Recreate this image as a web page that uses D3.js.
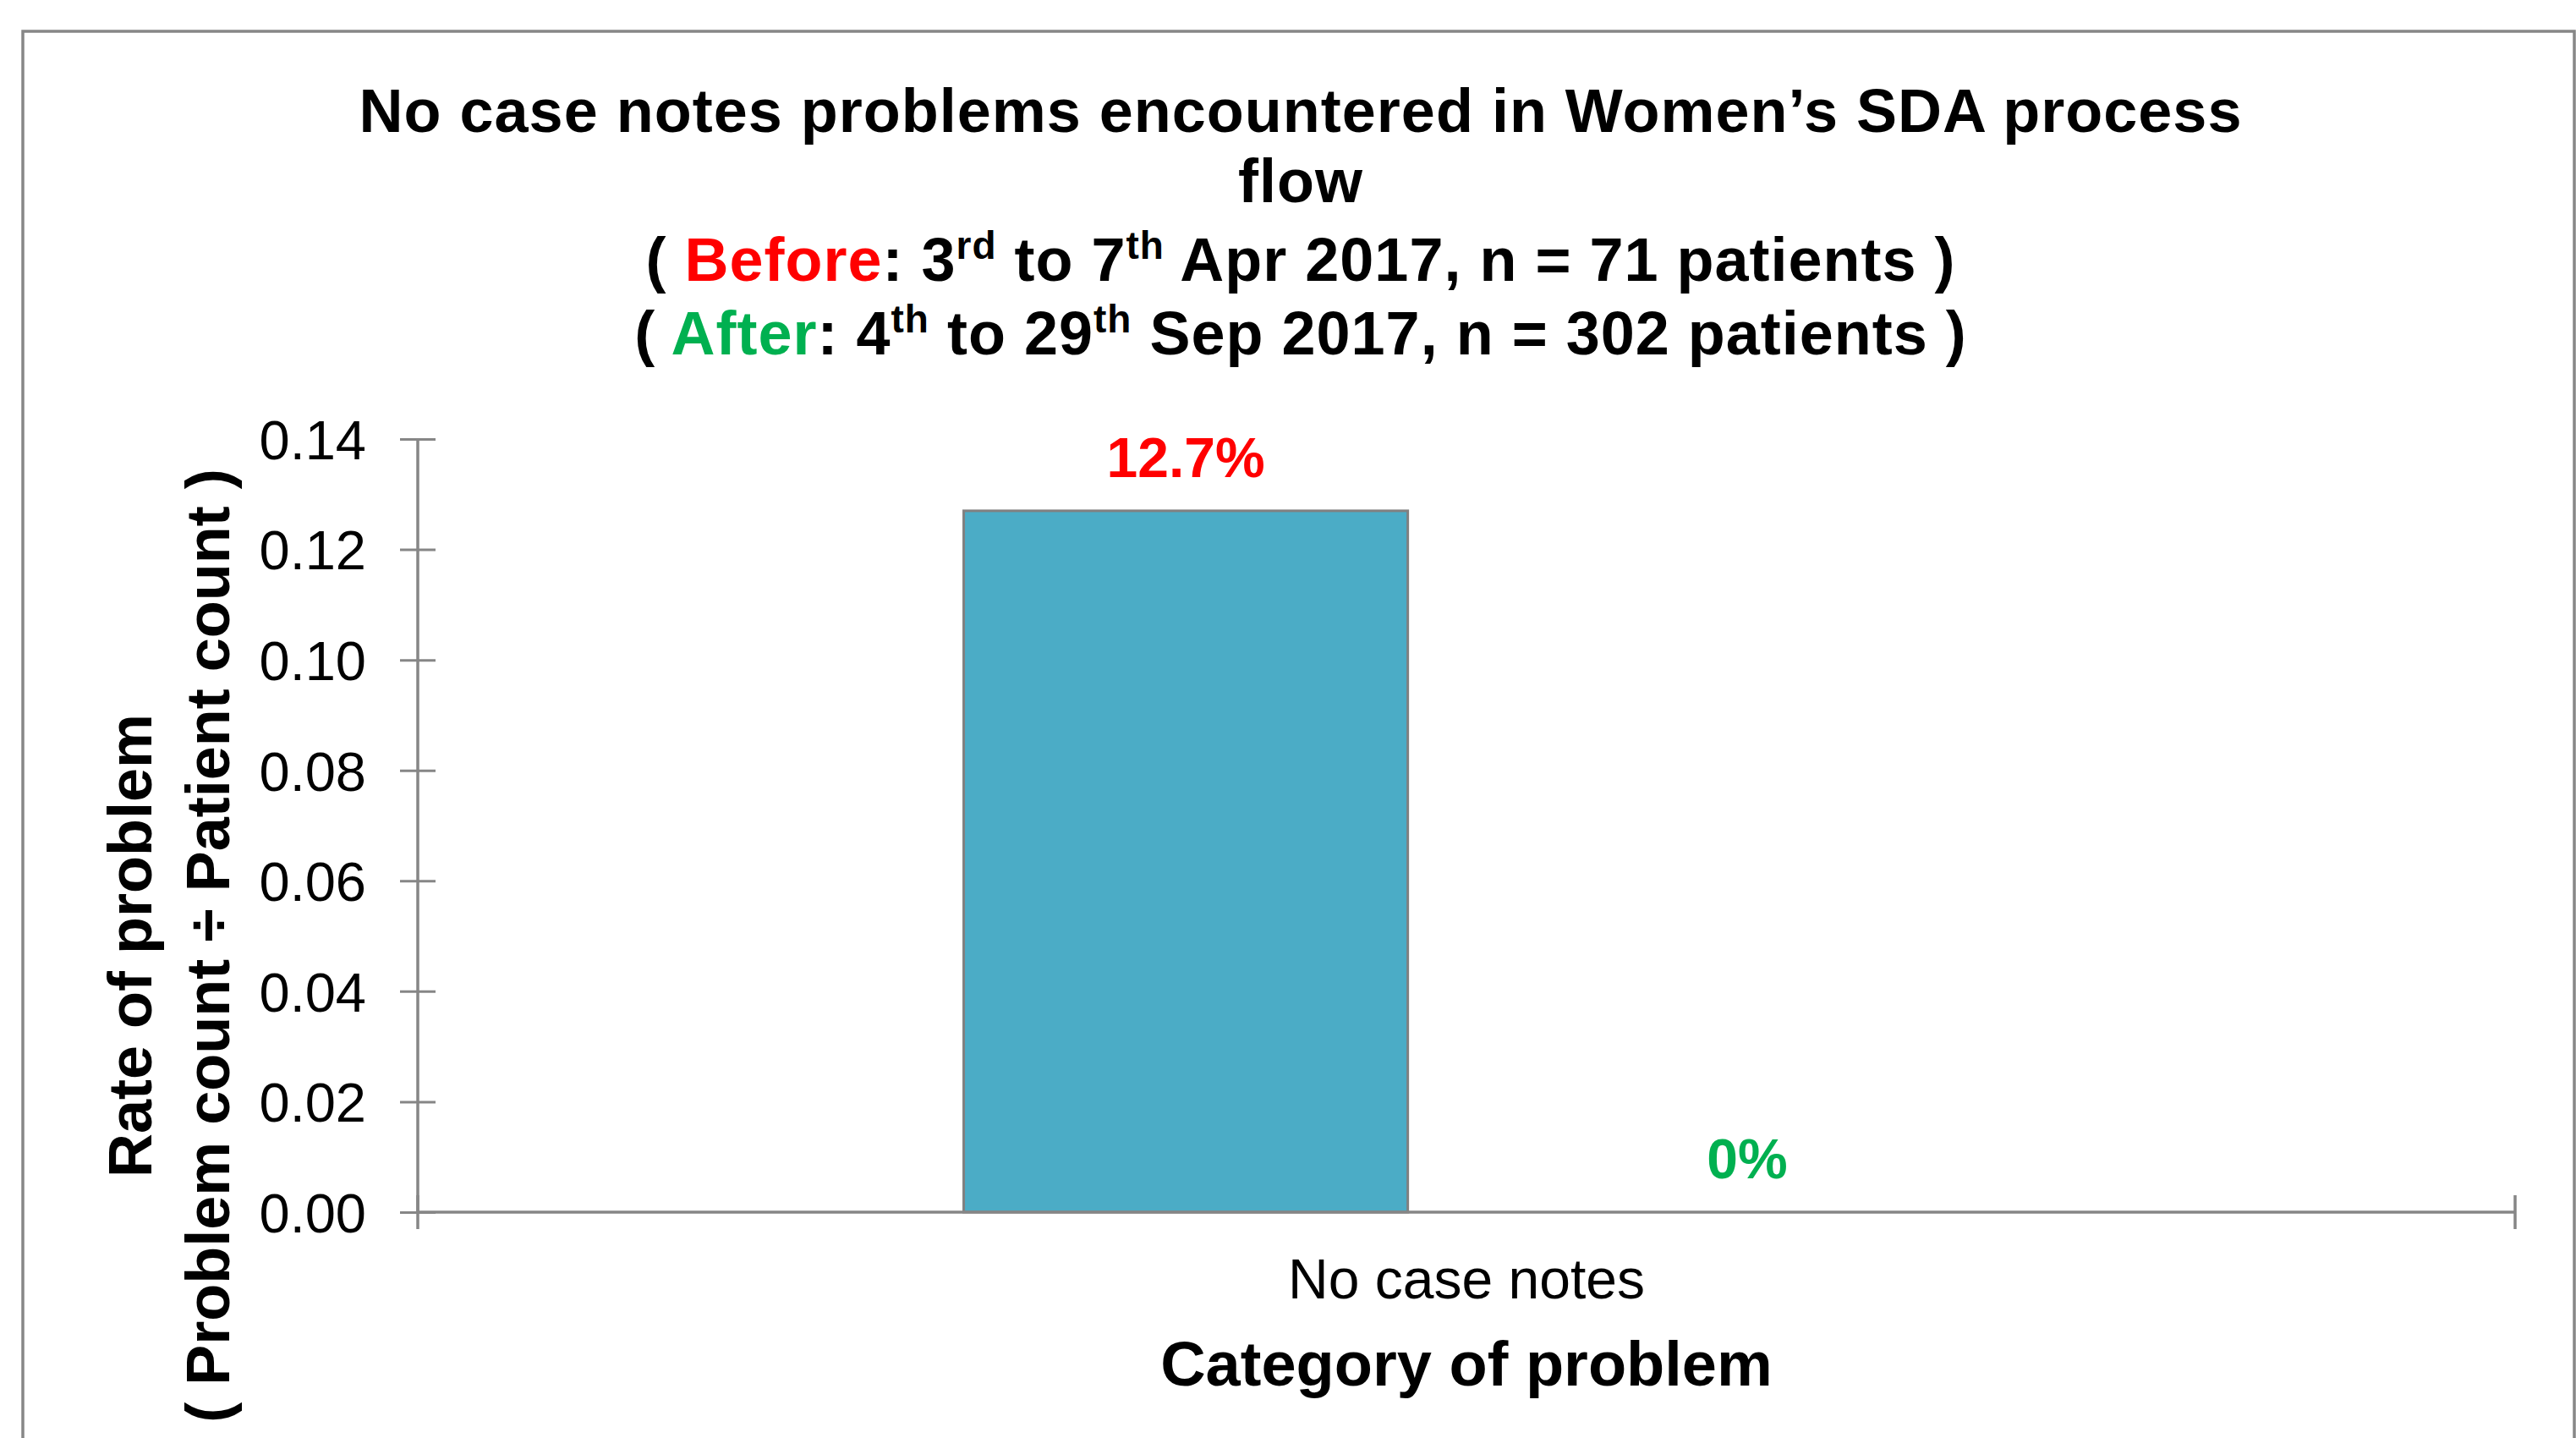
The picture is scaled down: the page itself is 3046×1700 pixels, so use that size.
<!DOCTYPE html>
<html><head><meta charset="utf-8">
<script src="https://cdn.jsdelivr.net/npm/d3@7"></script>
<style>html,body{margin:0;padding:0;background:#fff;}svg{display:block;}text{font-family:"Liberation Sans",Arial,sans-serif;}</style>
</head><body>
<svg id="c" width="3046" height="1700"></svg>
<script>
const categories = ["No case notes"];
const seriesNames = ["Before", "After"];
const beforeValues = [0.127];
const afterValues = [0];
const valueLabels = ["12.7%", "0%"];
const labelColors = ["#FF0000", "#00B050"];
const yTicks = [0, 0.02, 0.04, 0.06, 0.08, 0.10, 0.12, 0.14];

const svg = d3.select("#c");
const W = 3046, H = 1700;
svg.append("rect").attr("width", W).attr("height", H).attr("fill", "#fff");
// chart frame
svg.append("rect").attr("x", 27).attr("y", 37).attr("width", 3017).attr("height", 1720)
  .attr("fill", "none").attr("stroke", "#878787").attr("stroke-width", 3.5);

const plot = {left: 494, right: 2974, top: 519, bottom: 1433};
const y = d3.scaleLinear().domain([0, 0.14]).range([plot.bottom, plot.top]);
const x0 = d3.scaleBand().domain(categories).range([plot.left, plot.right]).paddingInner(0).paddingOuter(0);
const x1 = d3.scaleBand().domain(seriesNames)
  .range([x0.bandwidth() * 0.2603, x0.bandwidth() * (1 - 0.2603)])
  .paddingInner(0.209).paddingOuter(0);

const data = [];
categories.forEach((c, i) => {
  data.push({cat: c, s: "Before", v: beforeValues[i], label: valueLabels[0], color: labelColors[0]});
  data.push({cat: c, s: "After", v: afterValues[i], label: valueLabels[1], color: labelColors[1]});
});

// bars
svg.append("g").selectAll("rect").data(data.filter(d => d.v > 0)).join("rect")
  .attr("x", d => x0(d.cat) + x1(d.s))
  .attr("y", d => y(d.v))
  .attr("width", x1.bandwidth())
  .attr("height", d => y(0) - y(d.v))
  .attr("fill", "#4BACC6").attr("stroke", "#808080").attr("stroke-width", 3);

// y axis
const yAxis = svg.append("g").attr("transform", `translate(${plot.left},0)`)
  .call(d3.axisLeft(y).tickValues(yTicks).tickFormat(d3.format(".2f")).tickSize(21).tickPadding(40));
yAxis.select(".domain").attr("stroke", "#868686").attr("stroke-width", 3.5).attr("d", `M0,${plot.top}V${plot.bottom}`);
yAxis.selectAll(".tick line").attr("x1", -21).attr("x2", 21).attr("stroke", "#868686").attr("stroke-width", 3);
yAxis.selectAll(".tick text").attr("font-size", 65).attr("fill", "#000")
  .attr("font-family", '"Liberation Sans",Arial,sans-serif').attr("dy", "0.36em");

// x axis
const xAxis = svg.append("g").attr("transform", `translate(0,${plot.bottom})`)
  .call(d3.axisBottom(x0).tickSize(0).tickPadding(0));
xAxis.select(".domain").attr("stroke", "#868686").attr("stroke-width", 3.5).attr("d", `M${plot.left},0H${plot.right}`);
xAxis.selectAll(".tick text").attr("font-size", 66).attr("fill", "#000").attr("y", 102).attr("dy", 0)
  .attr("font-family", '"Liberation Sans",Arial,sans-serif');
// category boundary ticks
xAxis.append("g").selectAll("line").data([x0.range()[0], x0.range()[1]]).join("line")
  .attr("x1", d => d).attr("x2", d => d).attr("y1", -20).attr("y2", 20)
  .attr("stroke", "#868686").attr("stroke-width", 3.5);

// value labels
svg.append("g").selectAll("text").data(data).join("text")
  .attr("x", d => x0(d.cat) + x1(d.s) + x1.bandwidth() / 2)
  .attr("y", d => y(d.v) - 40)
  .attr("text-anchor", "middle").attr("font-size", 66).attr("font-weight", "bold")
  .attr("fill", d => d.color).text(d => d.label);

// axis titles
svg.append("text").attr("x", (plot.left + plot.right) / 2).attr("y", 1638)
  .attr("text-anchor", "middle").attr("font-size", 74).attr("font-weight", "bold").text("Category of problem");
const yt = svg.append("g").attr("transform", "translate(0,1118)");
yt.append("text").attr("transform", "translate(179,0) rotate(-90)").attr("text-anchor", "middle")
  .attr("font-size", 72).attr("font-weight", "bold").text("Rate of problem");
yt.append("text").attr("transform", "translate(271,0) rotate(-90)").attr("text-anchor", "middle")
  .attr("font-size", 72).attr("font-weight", "bold").text("( Problem count \u00F7 Patient count )");

// title
const tx = 1538;
const t = svg.append("g").attr("font-weight", "bold").attr("font-size", 72).attr("letter-spacing", 1)
  .attr("text-anchor", "middle");
t.append("text").attr("x", tx).attr("y", 156).text("No case notes problems encountered in Women\u2019s SDA process");
t.append("text").attr("x", tx).attr("y", 239).text("flow");
function supLine(yPos, parts) {
  const te = t.append("text").attr("x", tx).attr("y", yPos);
  parts.forEach(p => {
    const ts = te.append("tspan").text(p.t);
    if (p.c) ts.attr("fill", p.c);
    if (p.sup) ts.attr("font-size", 46).attr("dy", -26);
    if (p.after) ts.attr("dy", 26);
  });
}
supLine(332, [
  {t: "( "}, {t: "Before", c: "#FF0000"}, {t: ": 3"}, {t: "rd", sup: true}, {t: " to 7", after: true},
  {t: "th", sup: true}, {t: " Apr 2017, n = 71 patients )", after: true}
]);
supLine(419, [
  {t: "( "}, {t: "After", c: "#00B050"}, {t: ": 4"}, {t: "th", sup: true}, {t: " to 29", after: true},
  {t: "th", sup: true}, {t: " Sep 2017, n = 302 patients )", after: true}
]);
</script>
</body></html>
